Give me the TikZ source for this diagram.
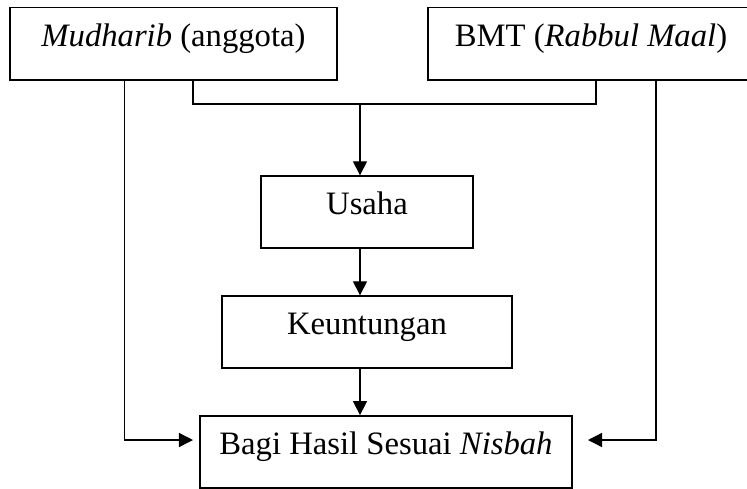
\documentclass[tikz,border=0pt]{standalone}
\usepackage{fontspec}
\setmainfont{Liberation Serif}
\usepackage{tikz}
\usetikzlibrary{arrows.meta}

\begin{document}
\begin{tikzpicture}[x=0.02cm, y=-0.02cm,
  box/.style={draw, line width=0.8pt, inner sep=0pt, minimum height=1.44cm,
    font=\fontsize{18.6}{22}\selectfont, text height=0.75em, text depth=0.43em},
  arr/.style={-{Triangle[length=8pt,width=8pt]}},
  line width=0.8pt]
\useasboundingbox (0,0) rectangle (747,488);

\node[box, minimum width=6.54cm, minimum height=1.45cm] (mud) at (173.5,43.75) {\textit{Mudharib} (anggota)};

\node[box, minimum width=6.52cm, minimum height=1.45cm] (bmt) at (591,43.75) {BMT (\textit{Rabbul Maal})};

\node[box, minimum width=4.24cm] (usaha) at (367,212) {Usaha};

\node[box, minimum width=5.8cm] (keu) at (367,332) {Keuntungan};

\node[box, minimum width=7.44cm] (bagi) at (386,451.8) {Bagi Hasil Sesuai \textit{Nisbah}};

\coordinate (mudL) at (124.5,80);
\coordinate (mudR) at (193,80);
\coordinate (bmtL) at (596,80);
\coordinate (bmtR) at (656,80);
\coordinate (join) at (360,104);
\coordinate (inL) at (193,440);
\coordinate (inR) at (588,440);

\draw (mudR) |- (join) -| (bmtL);

\draw[arr] (join) -- (join |- usaha.north);

\draw[arr] (usaha.south -| join) -- (keu.north -| join);

\draw[arr] (keu.south -| join) -- (bagi.north -| join);

\draw[arr] (mudL) |- (inL);

\draw[arr] (bmtR) |- (inR);
\end{tikzpicture}
\end{document}
